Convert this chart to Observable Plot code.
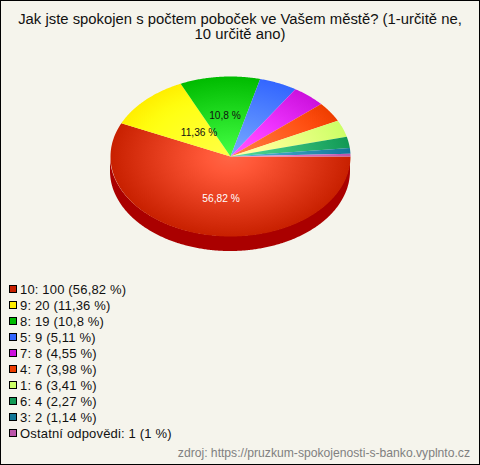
<!DOCTYPE html>
<html><head><meta charset="utf-8">
<script src="https://cdn.jsdelivr.net/npm/d3@7"></script>
<script src="https://cdn.jsdelivr.net/npm/@observablehq/plot@0.6"></script>
<style>
html,body{margin:0;padding:0;background:#f5f4ec}
#chart{position:relative;width:480px;height:465px;box-sizing:border-box;outline:1px solid #000;outline-offset:-1px;background:#f5f4ec;font-family:"Liberation Sans",Arial,sans-serif;color:#111;overflow:hidden}
#title{position:absolute;top:12px;left:0;width:480px;text-align:center;font-size:14.85px;line-height:15px;}
#pie{position:absolute;left:0;top:56px}
#pie svg{display:block;background:none}
#legend{position:absolute;left:9px;top:281px;font-size:13px;letter-spacing:0.17px}
.row{height:16px;line-height:17px;display:flex;align-items:center;white-space:nowrap}
.sw{width:6px;height:6px;border:1px solid #000;margin-right:3px;flex:none}
#source{position:absolute;right:10px;top:446px;font-size:12.15px;line-height:14px;color:#808080}
</style></head><body>
<div id="chart">
<div id="title"></div>
<div id="pie"></div>
<div id="legend"></div>
<div id="source"></div>
</div>
<script>
const titleLines = ["Jak jste spokojen s počtem poboček ve Vašem městě? (1-určitě ne,", "10 určitě ano)"];
const source = "zdroj: https://pruzkum-spokojenosti-s-banko.vyplnto.cz";
const names = ["10","9","8","5","7","4","1","6","3","Ostatní odpovědi"];
const counts = [100,20,19,9,8,7,6,4,2,1];
const percents = ["56,82","11,36","10,8","5,11","4,55","3,98","3,41","2,27","1,14","1"];
const baseColors = ["#c82000","#ffee00","#00bb00","#3366ff","#cc11dd","#ee3d00","#ccff66","#119955","#117799","#bb55aa"];
const sideColor = "#aa0000";
const glow = 70;
const labelled = [0,1,2];
const labelRadiusX = [0.37,0.37,0.51];
const labelRadiusY = [0.535,0.42,0.51];
const labelColors = ["#ffffff","#111111","#111111"];
const depth = 0.1875;

const total = d3.sum(counts);
// angle 0 = right edge of the pie, growing clockwise on screen
let acc = 0;
const slices = counts.map((c,i)=>{
  const a0 = acc/total*2*Math.PI; acc += c;
  return {i, a0, a1: acc/total*2*Math.PI};
});
const pt = a=>({x:Math.cos(a), y:-Math.sin(a)});
const poly = s=>{
  const n = Math.max(2,Math.ceil((s.a1-s.a0)/0.01));
  return [{x:0,y:0}, ...d3.range(n+1).map(k=>pt(s.a0+(s.a1-s.a0)*k/n)), {x:0,y:0}];
};
const front = s=>{
  const a1 = Math.min(s.a1,Math.PI);
  if (s.a0>=a1) return [];
  const n = Math.ceil((a1-s.a0)/0.01);
  return d3.range(n+1).map(k=>pt(s.a0+(a1-s.a0)*k/n));
};
const labelData = labelled.map((i,k)=>{
  const s = slices[i], p = pt((s.a0+s.a1)/2);
  return {x:p.x*labelRadiusX[k], y:p.y*labelRadiusY[k], text:`${percents[i]} %`, color:labelColors[k]};
});

const plot = Plot.plot({
  width:480, height:200,
  margin:0,
  x:{domain:[-1,1],range:[110,350],axis:null},
  y:{domain:[1,-1],range:[20,180],axis:null},
  style:{background:"none"},
  marks:[
    Plot.areaY(front(slices[0]),{x:"x",y1:"y",y2:d=>d.y-depth,fill:sideColor,curve:"linear"}),
    ...slices.map(s=>Plot.line(poly(s),{x:"x",y:"y",fill:`url(#g${s.i})`,stroke:"none",curve:"linear"})),
    Plot.text(labelData,{x:"x",y:"y",text:"text",fill:d=>d.color,fontSize:10.2,fontFamily:"Liberation Sans"})
  ],
  color:{type:"identity"}
});
const sx = plot.scale("x"), sy = plot.scale("y");
const cx = sx.apply(0), cy = sy.apply(0), rx = sx.apply(1)-cx, ratio = (sy.apply(-1)-cy)/rx;
const defs = d3.select(plot).insert("defs",":first-child");
slices.forEach(s=>{
  const g = defs.append("radialGradient").attr("id",`g${s.i}`).attr("gradientUnits","userSpaceOnUse")
    .attr("cx",0).attr("cy",0).attr("r",rx)
    .attr("gradientTransform",`translate(${cx},${cy}) scale(1,${ratio})`);
  const c = d3.rgb(baseColors[s.i]);
  d3.range(0,1.01,0.1).forEach(t=>{
    const d = glow*(1-t);
    g.append("stop").attr("offset",t).attr("stop-color",d3.rgb(Math.min(255,c.r+d),Math.min(255,c.g+d),Math.min(255,c.b+d)).formatHex());
  });
});
document.getElementById("pie").appendChild(plot);
document.getElementById("title").innerHTML = titleLines.join("<br>");
document.getElementById("source").textContent = source;
const legend = d3.select("#legend");
names.forEach((n,i)=>{
  const r = legend.append("div").attr("class","row");
  r.append("span").attr("class","sw").style("background",baseColors[i]);
  r.append("span").text(`${n}: ${counts[i]} (${percents[i]} %)`);
});
</script>
</body></html>
